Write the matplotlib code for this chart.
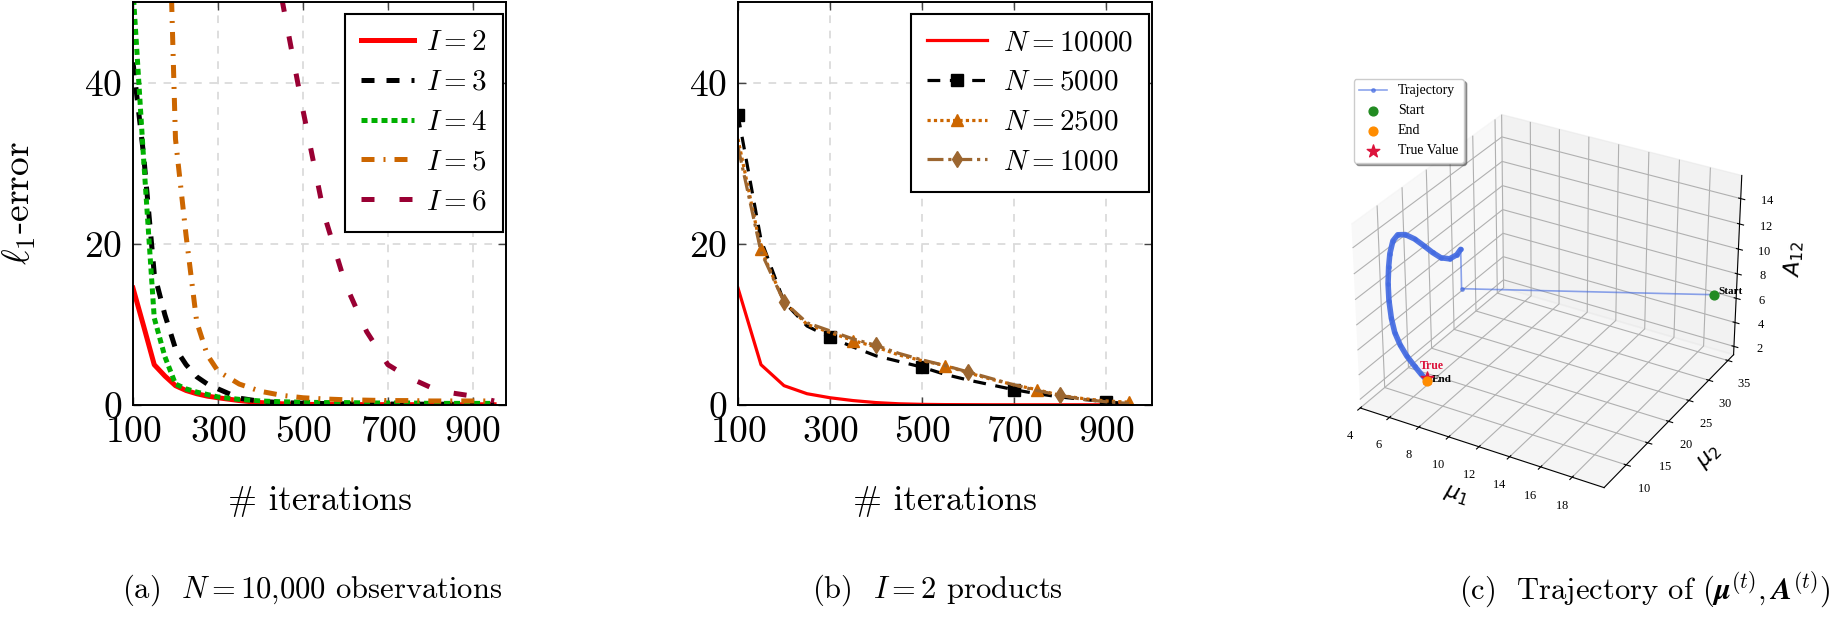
import matplotlib
matplotlib.use("Agg")
import matplotlib.pyplot as plt

# ---- panel (a): N = 10,000, different number of products I ----
iters_a = [100, 125, 150, 175, 200, 225, 250, 275, 300, 350, 400, 450,
           500, 550, 600, 650, 700, 750, 800, 850, 900, 950]
err_i2 = [14.5, 9.8, 5.0, 3.6, 2.4, 1.8, 1.4, 1.1, 0.9, 0.55, 0.3, 0.15,
          0.08, 0.06, 0.05, 0.05, 0.04, 0.04, 0.03, 0.03, 0.03, 0.03]
err_i3 = [42.5, 31.0, 16.3, 11.2, 7.0, 5.0, 3.5, 2.6, 2.0, 0.85, 0.45, 0.3,
          0.22, 0.18, 0.15, 0.13, 0.12, 0.1, 0.1, 0.1, 0.1, 0.1]
err_i4 = [51.6, 30.5, 10.8, 6.0, 2.6, 2.0, 1.6, 1.3, 1.0, 0.7, 0.5, 0.4,
          0.35, 0.3, 0.3, 0.25, 0.25, 0.25, 0.2, 0.2, 0.2, 0.2]
iters_i5 = [175, 200, 225, 250, 275, 300, 350, 400, 450, 500, 550, 600,
            650, 700, 750, 800, 850, 900, 950]
err_i5 = [80, 33, 21, 10.3, 6.2, 4.2, 2.6, 1.7, 1.2, 0.9, 0.75, 0.65,
          0.6, 0.55, 0.55, 0.5, 0.5, 0.5, 0.5]
iters_i6 = [450, 500, 550, 600, 650, 700, 750, 800, 850, 900, 950]
err_i6 = [50.5, 36.6, 23.6, 15.0, 9.1, 5.0, 3.4, 2.2, 1.5, 1.1, 0.5]

# ---- panel (b): I = 2, different sample sizes N ----
iters_b = [100, 150, 200, 250, 300, 350, 400, 450, 500,
           550, 600, 650, 700, 750, 800, 850, 900, 950]
err_n10000 = [14.5, 5.0, 2.4, 1.4, 0.9, 0.55, 0.3, 0.15, 0.08,
              0.05, 0.04, 0.03, 0.03, 0.03, 0.03, 0.03, 0.03, 0.03]
err_n5000 = [36, 20.5, 12.8, 9.8, 8.4, 7.2, 6.1, 5.4, 4.7,
             3.8, 3.1, 2.5, 1.9, 1.4, 1.0, 0.7, 0.4, 0.15]
err_n2500 = [33, 19.3, 12.8, 10.0, 9.0, 8.0, 7.2, 6.2, 5.5,
             4.9, 4.0, 3.2, 2.5, 1.9, 1.2, 0.8, 0.5, 0.35]
err_n1000 = [32, 19.0, 12.8, 10.2, 9.2, 8.2, 7.4, 6.4, 5.6,
             4.9, 4.1, 3.3, 2.5, 1.8, 1.2, 0.7, 0.4, 0.2]

# ---- panel (c): trajectory of (mu1, mu2, A12) ----
traj_mu1 = [19.0, 5.8, 5.8, 5.75, 5.6, 5.5, 5.4, 5.3, 5.15, 5.0, 4.9, 4.8,
            4.7, 4.65, 4.6, 4.65, 4.8, 5.0, 5.3, 5.7, 6.2, 6.6, 7.0]
traj_mu2 = [34.7, 21.3, 21.3, 20.6, 19.5, 18.0, 16.6, 15.2, 13.8, 12.4, 11.2, 10.5,
            10.1, 9.9, 9.8, 9.7, 9.6, 9.6, 9.7, 9.8, 9.9, 9.95, 10.0]
traj_a12 = [6.5, 6.5, 9.7, 9.45, 9.4, 9.9, 10.7, 11.6, 12.5, 13.2, 13.5, 13.2,
            12.3, 11.3, 10.0, 8.7, 7.4, 6.3, 5.4, 4.6, 3.9, 3.4, 3.0]
start_pt = (19.0, 34.7, 6.5)
end_pt = (7.0, 10.0, 3.0)
true_pt = (6.9, 10.2, 3.1)

W, H = 1849, 619
plt.rcParams["mathtext.fontset"] = "cm"
plt.rcParams["font.family"] = "serif"
plt.rcParams["font.serif"] = ["cmr10"]
plt.rcParams["axes.formatter.use_mathtext"] = True


def box(left, top, right, bottom):
    return [left / W, 1 - bottom / H, (right - left) / W, (bottom - top) / H]


def style_err_axis(ax, xmax):
    ax.set_xlim(100, xmax)
    ax.set_ylim(0, 50)
    ax.set_xticks([100, 300, 500, 700, 900])
    ax.set_yticks([0, 20, 40])
    ax.grid(True, color="#d4d4d4", linestyle=(0, (5, 5)), linewidth=1.1)
    ax.set_axisbelow(True)
    ax.tick_params(direction="in", length=6, width=1, top=True, right=True,
                   labelsize=27, pad=8, colors="#444444", labelcolor="black")
    for s in ax.spines.values():
        s.set_linewidth(1.4)
    ax.set_xlabel("# iterations", fontsize=25)
    ax.xaxis.set_label_coords(0.5, -0.2)


def err_legend(ax, hl, pad):
    leg = ax.legend(loc="upper right", bbox_to_anchor=(0.992, 0.971), fontsize=21,
                    frameon=True, fancybox=False, edgecolor="black", framealpha=1,
                    handlelength=hl, handletextpad=pad, labelspacing=0.46,
                    borderpad=0.55, borderaxespad=0)
    leg.get_frame().set_linewidth(1.5)


fig = plt.figure(figsize=(18.49, 6.19), dpi=100)

# (a)
ax_a = fig.add_axes(box(133, 2, 506, 405))
ax_a.plot(iters_a, err_i2, color="#ff0000", lw=3.6, label=r"$I = 2$")
ax_a.plot(iters_a, err_i3, color="black", lw=3.6, ls=(0, (2.6, 2.4)), label=r"$I = 3$")
ax_a.plot(iters_a, err_i4, color="#00b000", lw=3.6, ls=(0, (1.2, 0.8)), label=r"$I = 4$")
ax_a.plot(iters_i5, err_i5, color="#cc6600", lw=3.6, ls=(0, (2.6, 1.8, 0.4, 1.8)), label=r"$I = 5$")
ax_a.plot(iters_i6, err_i6, color="#990033", lw=3.6, ls=(0, (2.6, 5)), label=r"$I = 6$")
style_err_axis(ax_a, 978)
ax_a.set_ylabel(r"$\ell_1$-error", fontsize=27)
ax_a.yaxis.set_label_coords(-0.255, 0.5)
err_legend(ax_a, 1.8, 0.4)

# (b)
ax_b = fig.add_axes(box(738, 2, 1152, 405))
ax_b.plot(iters_b, err_n10000, color="#ff0000", lw=2.3, label=r"$N = 10000$")
ax_b.plot(iters_b, err_n5000, color="black", lw=2.3, ls=(0, (4, 3)), marker="s",
          ms=8, markevery=(0, 4), label=r"$N = 5000$")
ax_b.plot(iters_b, err_n2500, color="#cc6600", lw=2.3, ls=(0, (1, 1)), marker="^",
          ms=8, markevery=(1, 4), label=r"$N = 2500$")
ax_b.plot(iters_b, err_n1000, color="#9c6630", lw=2.3, ls=(0, (5, 1.5, 1, 1.5)),
          marker="d", ms=8, markevery=(2, 4), label=r"$N = 1000$")
style_err_axis(ax_b, 1000)
err_legend(ax_b, 2.05, 0.55)

# (c)
serif3d = "Liberation Serif"
ax_c = fig.add_axes(box(1307, 81, 1782, 515), projection="3d")
ax_c.plot(traj_mu1, traj_mu2, traj_a12, color="royalblue", lw=1.2, alpha=0.6,
          marker="o", ms=2.5, label="Trajectory")
ax_c.plot(traj_mu1[2:], traj_mu2[2:], traj_a12[2:], color="royalblue", lw=4,
          alpha=0.9, solid_capstyle="round")
ax_c.scatter(*[[v] for v in start_pt], color="forestgreen", s=40, label="Start",
             depthshade=False)
ax_c.scatter(*[[v] for v in end_pt], color="darkorange", s=40, label="End",
             depthshade=False, zorder=5)
ax_c.scatter(*[[v] for v in true_pt], color="crimson", marker="*", s=90,
             label="True Value", depthshade=False)
ax_c.text(start_pt[0] + 0.3, start_pt[1], start_pt[2] + 0.2, "Start",
          fontsize=8, fontweight="bold", family=serif3d)
ax_c.text(end_pt[0] + 0.3, end_pt[1], end_pt[2], "End",
          fontsize=8, fontweight="bold", family=serif3d)
ax_c.text(true_pt[0] - 0.5, true_pt[1], true_pt[2] + 0.6, "True",
          fontsize=8.5, fontweight="bold", color="crimson", family=serif3d)
ax_c.set_xlim(4, 20)
ax_c.set_ylim(5, 36.5)
ax_c.set_zlim(1.3, 15.8)
ax_c.set_xticks([4, 6, 8, 10, 12, 14, 16, 18])
ax_c.set_yticks([10, 15, 20, 25, 30, 35])
ax_c.set_zticks([2, 4, 6, 8, 10, 12, 14])
for lab in (ax_c.get_xticklabels() + ax_c.get_yticklabels() + ax_c.get_zticklabels()):
    lab.set_fontfamily(serif3d)
    lab.set_fontsize(9)
ax_c.set_xlabel(r"$\mu_1$", fontsize=16, math_fontfamily="dejavusans")
ax_c.set_ylabel(r"$\mu_2$", fontsize=16, math_fontfamily="dejavusans")
ax_c.set_zlabel(r"$A_{12}$", fontsize=16, math_fontfamily="dejavusans")
ax_c.legend(loc="upper left", bbox_to_anchor=(0.06, 1.005), borderaxespad=0,
            prop={"family": serif3d, "size": 10}, shadow=True, fancybox=True)

# captions
cap_y = 1 - 590 / H
fig.text(312 / W, cap_y, r"(a)  $N = 10{,}000$ observations", fontsize=22,
         ha="center", va="center")
fig.text(937 / W, cap_y, r"(b)  $I = 2$ products", fontsize=22,
         ha="center", va="center")
fig.text(1645 / W, cap_y,
         r"(c)  Trajectory of $(\boldsymbol{\mu}^{(t)}, \boldsymbol{A}^{(t)})$",
         fontsize=22, ha="center", va="center")

fig.savefig("out.png", dpi=100)
